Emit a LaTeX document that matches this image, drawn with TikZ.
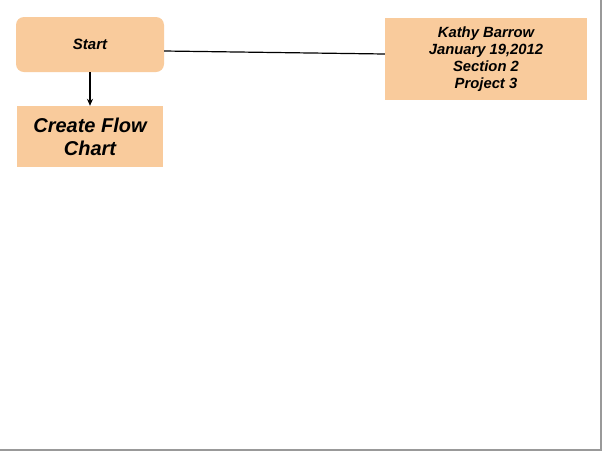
\documentclass[tikz,border=0pt]{standalone}
\usepackage{fontspec}
\setmainfont{Liberation Sans}
\usetikzlibrary{arrows.meta}
\definecolor{peach}{HTML}{F9CB9C}
\begin{document}
\begin{tikzpicture}[x=1pt,y=-1pt,
  box/.style={fill=peach,draw=none,inner sep=0pt,align=center,font=\bfseries\itshape},
  conn/.style={draw=black,line width=1.2pt}]
\useasboundingbox (0,0) rectangle (602,451);
\fill[white] (0,0) rectangle (602,451);
\draw[gray!80,line width=1.5pt] (601,0) -- (601,450.2) -- (0,450.2);
\node[box,rounded corners=8pt,minimum width=148pt,minimum height=55pt,font=\bfseries\itshape\fontsize{15}{18}\selectfont] (start) at (90,44.5) {Start};
\node[box,minimum width=146pt,minimum height=61pt,font=\bfseries\itshape\fontsize{20}{23}\selectfont] (create) at (90,136.5) {Create Flow\\Chart};
\node[box,minimum width=202pt,minimum height=82pt,font=\bfseries\itshape\fontsize{14.8}{17}\selectfont] (info) at (486,59) {Kathy Barrow\\January 19,2012\\Section 2\\Project 3};
\draw[conn,-{Stealth[length=7pt,width=6pt]}] (start.south) -- (create.north);
\draw[conn] (start.east |- 0,51) -- (info.west |- 0,54);
\end{tikzpicture}
\end{document}
